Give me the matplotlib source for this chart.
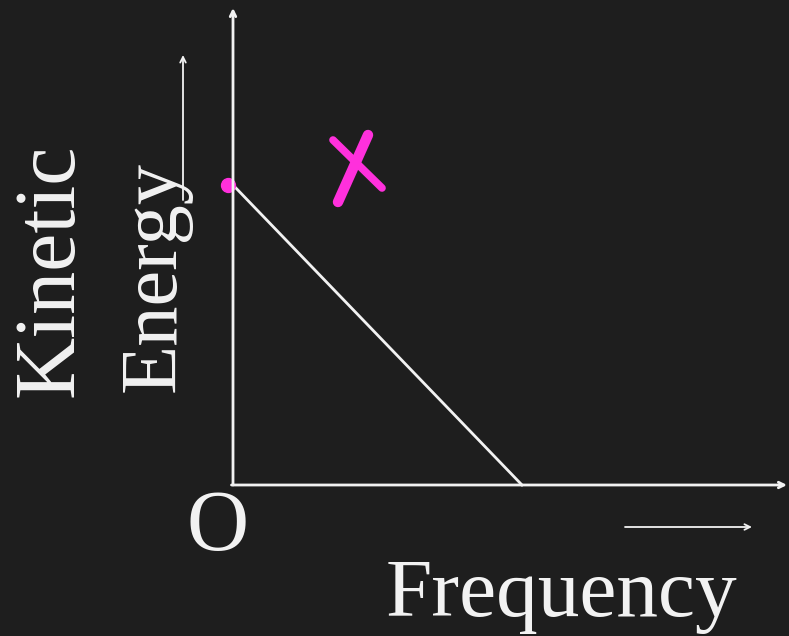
import numpy as np
import matplotlib.pyplot as plt

plt.rcParams['font.family'] = 'Liberation Serif'

# KE vs frequency sketch: one unit = 50 px
freq = np.array([0.0, 5.78])
kinetic = np.array([6.0, 0.0])

# hand-drawn cross next to the graph
cross_a_x = [2.1, 2.7]
cross_a_y = [5.66, 7.0]
cross_b_x = [2.0, 2.98]
cross_b_y = [6.9, 5.94]

bg = '#1e1e1e'
fg = '#f2f2f2'
pink = '#ff30dc'

fig = plt.figure(figsize=(7.89, 6.36), dpi=100, facecolor=bg)
ax = fig.add_axes([0, 0, 1, 1])
ax.set_facecolor(bg)
ax.set_xlim(-4.66, 11.12)
ax.set_ylim(-3.02, 9.7)
ax.axis('off')

arrow = dict(arrowstyle='->', color=fg, lw=2, shrinkA=0, shrinkB=0)
ax.annotate('', xy=(0, 9.54), xytext=(0, 0), arrowprops=arrow)
ax.annotate('', xy=(11.08, 0), xytext=(-0.03, 0), arrowprops=arrow)

thin = dict(arrowstyle='->', color=fg, lw=1.3, shrinkA=0, shrinkB=0)
ax.annotate('', xy=(-1.0, 8.6), xytext=(-1.0, 5.7), arrowprops=thin)
ax.annotate('', xy=(10.38, -0.84), xytext=(7.84, -0.84), arrowprops=thin)

ax.plot(freq, kinetic, color=fg, lw=2)
ax.plot([-0.1], [6.0], 'o', color=pink, ms=10)

ax.plot(cross_a_x, cross_a_y, color=pink, lw=7.5, solid_capstyle='round')
ax.plot(cross_b_x, cross_b_y, color=pink, lw=5.5, solid_capstyle='round')

ax.text(-3.62, 4.3, 'Kinetic', color=fg, fontsize=62, rotation=90,
        ha='center', va='center')
ax.text(-1.56, 4.18, 'Energy', color=fg, fontsize=58, rotation=90,
        ha='center', va='center')
ax.text(-0.3, -0.88, 'O', color=fg, fontsize=62, ha='center', va='center')
ax.text(6.56, -2.22, 'Frequency', color=fg, fontsize=60, ha='center', va='center')

fig.savefig('out.png', dpi=100, facecolor=bg)
